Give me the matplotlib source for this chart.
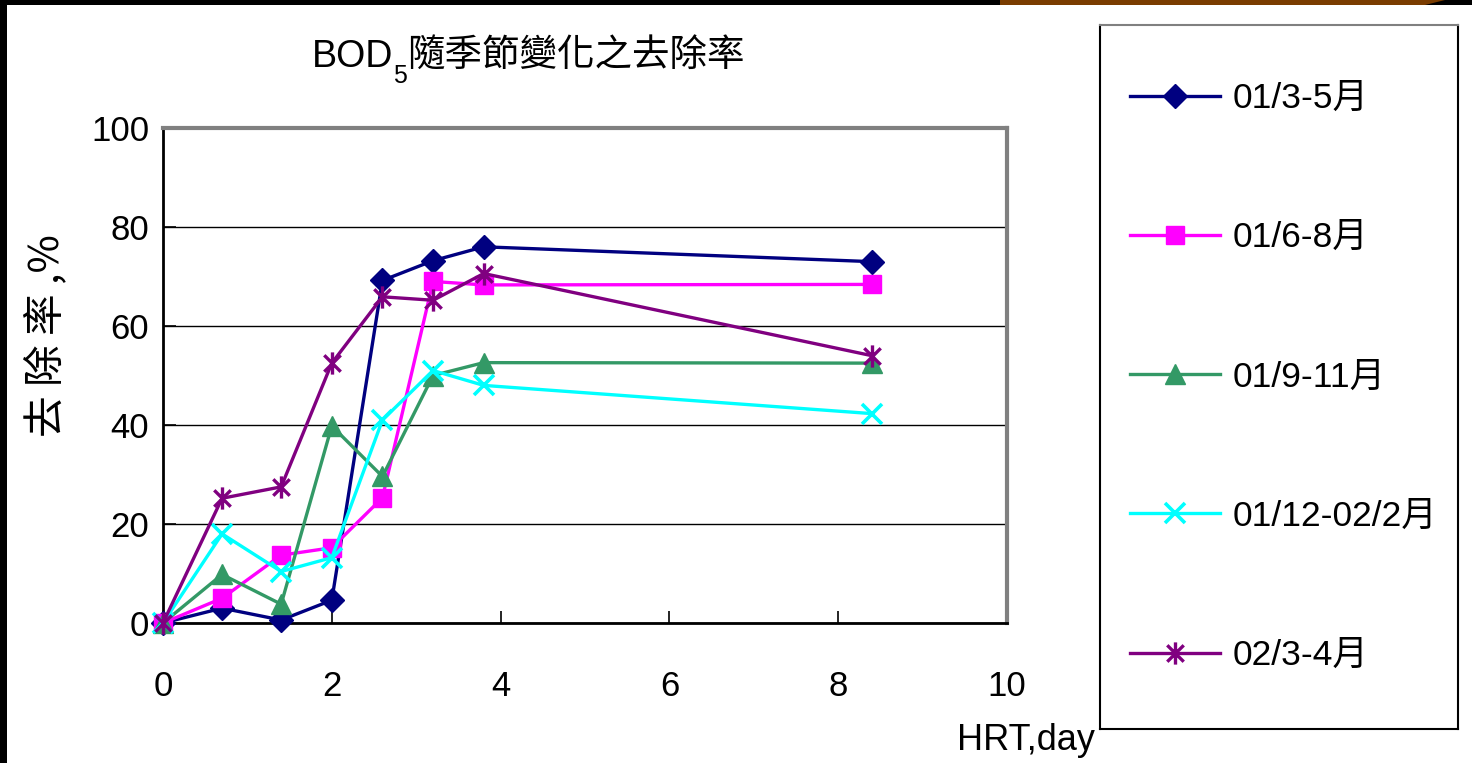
import matplotlib
matplotlib.use("Agg")
import matplotlib.pyplot as plt
from matplotlib.path import Path
from matplotlib.patches import Rectangle, Polygon

plt.rcParams['font.family'] = ['Liberation Sans', 'Noto Sans CJK TC', 'DejaVu Sans']

# data
hrt = [0, 0.7, 1.4, 2.0, 2.6, 3.2, 3.8, 8.4]
labels = ['01/3-5月', '01/6-8月', '01/9-11月', '01/12-02/2月', '02/3-4月']
s_mar_may = [0, 3.0, 0.6, 4.6, 69.2, 73.2, 76.0, 73.0]
s_jun_aug = [0, 5.0, 13.7, 15.2, 25.3, 69.0, 68.3, 68.4]
s_sep_nov = [0, 9.8, 3.8, 39.8, 29.6, 50.0, 52.6, 52.5]
s_dec_feb = [0, 18.0, 10.4, 13.2, 41.0, 51.0, 48.0, 42.3]
s_mar_apr = [0, 25.2, 27.5, 52.5, 65.9, 65.2, 70.6, 54.0]
yticks = [0, 20, 40, 60, 80, 100]
xticks = [0, 2, 4, 6, 8, 10]

series = [s_mar_may, s_jun_aug, s_sep_nov, s_dec_feb, s_mar_apr]
colors = ['#000080', '#FF00FF', '#339966', '#00FFFF', '#800080']

star = Path([(-1, -1), (1, 1), (-1, 1), (1, -1), (0, -1.35), (0, 1.35)],
            [Path.MOVETO, Path.LINETO, Path.MOVETO, Path.LINETO, Path.MOVETO, Path.LINETO])
styles = [
    dict(marker='D', markersize=12),
    dict(marker='s', markersize=13),
    dict(marker='^', markersize=15),
    dict(marker='x', markersize=15, markeredgewidth=2.6),
    dict(marker=star, markersize=16, markeredgewidth=2.4),
]

W, H = 1472, 763
fig = plt.figure(figsize=(W / 100, H / 100), dpi=100)

# slide decoration: black strips at the top and left
fig.patches.append(Rectangle((0, 1 - 5 / H), 1, 5 / H, transform=fig.transFigure,
                             facecolor='black', edgecolor='none', zorder=0))
fig.patches.append(Polygon([(1000 / W, 1), (1445 / W, 1), (1425 / W, 1 - 5 / H), (1000 / W, 1 - 5 / H)],
                           closed=True, transform=fig.transFigure,
                           facecolor='#7a3c00', edgecolor='none', zorder=1))
fig.patches.append(Rectangle((0, 0), 7 / W, 1, transform=fig.transFigure,
                             facecolor='black', edgecolor='none', zorder=0))

ax = fig.add_axes([163 / W, 1 - 623 / H, (1007 - 163) / W, (623 - 128) / H])
handles = []
for vals, c, st in zip(series, colors, styles):
    h, = ax.plot(hrt, vals, color=c, linewidth=2.4, markerfacecolor=c,
                 markeredgecolor=c, clip_on=False, zorder=3, **st)
    handles.append(h)

ax.set_xlim(0, 10)
ax.set_ylim(0, 100)
ax.set_xticks(xticks)
ax.set_yticks(yticks)
ax.yaxis.grid(True, color='black', linewidth=1.0)
ax.set_axisbelow(True)
ax.tick_params(axis='both', direction='in', length=9, width=1.2, labelsize=25, colors='black')
ax.tick_params(axis='x', pad=34)
ax.tick_params(axis='y', pad=10)
for side in ['top', 'right']:
    ax.spines[side].set_color('#808080')
    ax.spines[side].set_linewidth(3)
for side in ['left', 'bottom']:
    ax.spines[side].set_color('black')
    ax.spines[side].set_linewidth(2)

ax.set_ylabel('去 除 率 ,%', fontsize=30, family=['Noto Sans CJK TC', 'DejaVu Sans'])
ax.yaxis.set_label_coords(-0.113, 0.58)
fig.text(1095 / W, 1 - 750 / H, 'HRT,day', fontsize=26, ha='right', va='baseline')

# title with subscript
t1 = fig.text(312 / W, 1 - 67 / H, 'BOD', fontsize=27, va='baseline')
ax.annotate('5', xy=(1, 0), xycoords=t1, xytext=(0, -6), textcoords='offset points',
            fontsize=18, va='baseline', ha='left', annotation_clip=False)
ax.annotate('隨季節變化之去除率', xy=(1, 0), xycoords=t1, xytext=(10, 0), textcoords='offset points',
            fontsize=27, va='bottom', ha='left', annotation_clip=False,
            family=['Noto Sans CJK TC', 'DejaVu Sans'])

# legend box
lax = fig.add_axes([1100 / W, 1 - 729 / H, (1458 - 1100) / W, (729 - 25) / H])
lax.set_xticks([])
lax.set_yticks([])
for side in lax.spines:
    lax.spines[side].set_linewidth(1.5)
    lax.spines[side].set_color('black')
lax.spines['top'].set_color('#808080')
lax.legend(handles, labels, loc='center left', bbox_to_anchor=(0.0, 0.5), frameon=False,
           fontsize=25.5, handlelength=2.55, handletextpad=0.34, labelspacing=3.0,
           borderaxespad=0.45, borderpad=0.4)

fig.savefig('out.png', dpi=100)
